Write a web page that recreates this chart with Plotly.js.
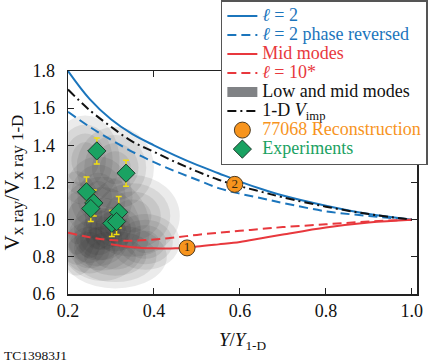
<!DOCTYPE html>
<html>
<head>
<meta charset="utf-8">
<script src="https://cdn.plot.ly/plotly-3.0.1.min.js"></script>
<style>html,body{margin:0;padding:0;background:#fff}</style>
</head>
<body>
<div id="chart" style="width:437px;height:362px"></div>
<script>
// curves
var xCurve = [0.2, 0.25, 0.3, 0.35, 0.4, 0.45, 0.5, 0.55, 0.6, 0.65, 0.7, 0.8, 0.9, 1.0];
var l2 = [1.80, 1.65, 1.54, 1.46, 1.40, 1.345, 1.295, 1.25, 1.205, 1.165, 1.13, 1.075, 1.03, 1.0];
var l2Rev = [1.58, 1.50, 1.43, 1.365, 1.31, 1.26, 1.215, 1.17, 1.14, 1.115, 1.09, 1.045, 1.02, 1.0];
var vImp = [1.70, 1.59, 1.50, 1.42, 1.365, 1.31, 1.26, 1.215, 1.18, 1.15, 1.12, 1.07, 1.03, 1.0];
var l10 = [0.93, 0.905, 0.89, 0.887, 0.893, 0.905, 0.918, 0.93, 0.94, 0.95, 0.96, 0.975, 0.99, 1.0];
var xMid = [0.3, 0.35, 0.4, 0.45, 0.5, 0.55, 0.6, 0.65, 0.7, 0.8, 0.9, 1.0];
var midModes = [0.868, 0.852, 0.846, 0.846, 0.855, 0.867, 0.88, 0.90, 0.92, 0.958, 0.985, 1.0];

// 77068 reconstruction points
var reconX = [0.309, 0.477, 0.588];
var reconY = [0.985, 0.848, 1.19];
var reconLabel = ['', '1', '2'];

// experiments
var expX = [0.267, 0.335, 0.243, 0.26, 0.253, 0.318, 0.302, 0.313];
var expY = [1.37, 1.25, 1.15, 1.09, 1.06, 1.04, 0.98, 0.99];
var expErr = [0.07, 0.07, 0.08, 0.07, 0.07, 0.085, 0.07, 0.07];

// low and mid modes cloud: blob centres and half widths
var blobX = [0.24, 0.31, 0.35, 0.28, 0.22, 0.31, 0.38, 0.27, 0.27, 0.31, 0.25];
var blobY = [1.32, 1.28, 1.02, 0.95, 0.98, 0.80, 0.88, 1.12, 0.90, 0.95, 0.85];
var blobRx = [0.08, 0.09, 0.11, 0.11, 0.06, 0.12, 0.08, 0.08, 0.07, 0.06, 0.06];
var blobRy = [0.24, 0.22, 0.22, 0.28, 0.28, 0.17, 0.15, 0.22, 0.15, 0.12, 0.14];

var BLUE = '#1b75bc', RED = '#e8383d', ORANGE = '#f7941d', GREEN = '#1aa262';
var SERIF = "'Liberation Serif', 'DejaVu Serif', serif";

function nm(txt, col) {
    return '<span style="font-size:18px;color:' + col + '">' + txt + '</span>';
}
function sub(txt) {
    return '<sub><span style="font-size:17px">' + txt + '</span></sub>';
}

var shapes = [];
var scales = [1, 0.8, 0.6, 0.4];
for (var i = 0; i < blobX.length; i++) {
    for (var k = 0; k < scales.length; k++) {
        var s = scales[k];
        shapes.push({
            type: 'circle', xref: 'x', yref: 'y', layer: 'below',
            x0: blobX[i] - blobRx[i] * s, x1: blobX[i] + blobRx[i] * s,
            y0: blobY[i] - blobRy[i] * s, y1: blobY[i] + blobRy[i] * s,
            fillcolor: 'rgba(40,40,40,0.095)', line: {width: 0}
        });
    }
}

var data = [
    {x: xCurve, y: l2, mode: 'lines', line: {color: BLUE, width: 2, shape: 'spline'},
        name: nm('<i>ℓ</i> = 2', BLUE)},
    {x: xCurve, y: l2Rev, mode: 'lines', line: {color: BLUE, width: 2, dash: '9px,5px', shape: 'spline'},
        name: nm('<i>ℓ</i> = 2 phase reversed', BLUE)},
    {x: xMid, y: midModes, mode: 'lines', line: {color: RED, width: 2, shape: 'spline'},
        name: nm('Mid modes', RED)},
    {x: xCurve, y: l10, mode: 'lines', line: {color: RED, width: 2, dash: '9px,5px', shape: 'spline'},
        name: nm('<i>ℓ</i> = 10*', RED)},
    {x: [null], y: [null], mode: 'lines', line: {width: 12, color: '#808285'},
        name: nm('Low and mid modes', '#111')},
    {x: xCurve, y: vImp, mode: 'lines', line: {color: '#111', width: 2, dash: '9px,4px,2px,4px', shape: 'spline'},
        name: nm('1-D <i>V</i><sub>imp</sub>', '#111')},
    {x: reconX, y: reconY, mode: 'markers',
        marker: {size: 16, color: ORANGE, line: {color: '#4d3a20', width: 1}},
        name: nm('77068 Reconstruction', ORANGE)},
    {x: reconX, y: reconY, mode: 'text', text: reconLabel, showlegend: false,
        textfont: {family: SERIF, size: 13, color: '#3a2a10'}},
    {x: expX, y: expY, mode: 'markers',
        marker: {symbol: 'diamond', size: 14, color: GREEN, line: {color: '#1d3b2c', width: 1}},
        error_y: {type: 'data', array: expErr, color: '#f2de10', thickness: 1.5, width: 3},
        name: nm('Experiments', GREEN)}
];

var layout = {
    width: 437, height: 362,
    margin: {l: 68, r: 20, t: 71, b: 68, autoexpand: false},
    paper_bgcolor: '#fff', plot_bgcolor: '#fff',
    font: {family: SERIF, size: 18, color: '#111'},
    showlegend: true,
    legend: {
        x: 0.438, y: 1.318, xanchor: 'left', yanchor: 'top',
        bgcolor: '#fff', bordercolor: '#555', borderwidth: 1.5,
        font: {family: SERIF, size: 12, color: '#111'},
        itemwidth: 30, traceorder: 'normal'
    },
    xaxis: {
        range: [0.2, 1.012], tickvals: [0.2, 0.4, 0.6, 0.8, 1.0], tickformat: '.1f',
        ticks: 'inside', ticklen: 6, tickcolor: '#222', mirror: 'ticks',
        showline: true, linecolor: '#222', linewidth: 1.5,
        showgrid: false, zeroline: false,
        tickfont: {family: SERIF, size: 18},
        title: {text: '<i>Y</i>/<i>Y</i><sub>1-D</sub>', font: {family: SERIF, size: 19}, standoff: 12}
    },
    yaxis: {
        range: [0.6, 1.8], tickvals: [0.6, 0.8, 1.0, 1.2, 1.4, 1.6, 1.8], tickformat: '.1f',
        ticks: 'inside', ticklen: 6, tickcolor: '#222', mirror: 'ticks',
        showline: true, linecolor: '#222', linewidth: 1.5,
        showgrid: false, zeroline: false,
        tickfont: {family: SERIF, size: 18},
        ticklabelstandoff: 8,
        title: {text: 'V' + sub('x ray') + '/V' + sub('x ray 1-D'), font: {family: SERIF, size: 21}, standoff: 8}
    },
    shapes: shapes,
    annotations: [{
        xref: 'paper', yref: 'paper', x: -0.19, y: -0.275, xanchor: 'left', yanchor: 'middle',
        text: 'TC13983J1', showarrow: false, font: {family: SERIF, size: 13.5, color: '#111'}
    }]
};

Plotly.newPlot('chart', data, layout, {displayModeBar: false, staticPlot: true});
</script>
</body>
</html>
